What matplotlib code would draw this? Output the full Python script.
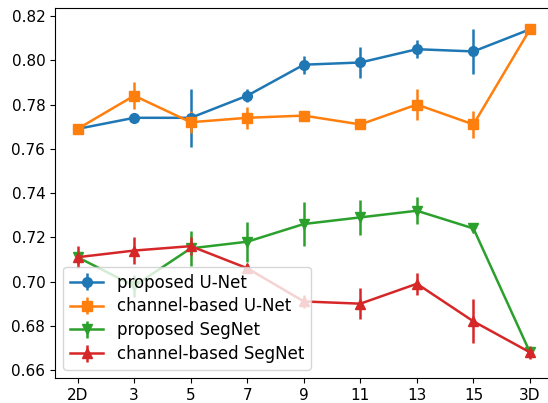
import matplotlib
matplotlib.use("Agg")
import matplotlib.pyplot as plt

# x categories
labels = ["2D", "3", "5", "7", "9", "11", "13", "15", "3D"]

# mean values and error bars for each series
unet_prop = [0.769, 0.774, 0.774, 0.784, 0.798, 0.799, 0.805, 0.804, 0.814]
unet_prop_err = [0.002, 0.002, 0.013, 0.003, 0.004, 0.007, 0.004, 0.010, 0.001]

unet_chan = [0.769, 0.784, 0.772, 0.774, 0.775, 0.771, 0.780, 0.771, 0.814]
unet_chan_err = [0.002, 0.006, 0.005, 0.005, 0.002, 0.002, 0.007, 0.006, 0.001]

segnet_prop = [0.711, 0.698, 0.715, 0.718, 0.726, 0.729, 0.732, 0.724, 0.668]
segnet_prop_err = [0.003, 0.005, 0.008, 0.009, 0.010, 0.008, 0.006, 0.001, 0.002]

segnet_chan = [0.711, 0.714, 0.716, 0.706, 0.691, 0.690, 0.699, 0.682, 0.668]
segnet_chan_err = [0.005, 0.006, 0.004, 0.002, 0.003, 0.007, 0.005, 0.010, 0.003]

series = [
    ("proposed U-Net", unet_prop, unet_prop_err, "o", "tab:blue"),
    ("channel-based U-Net", unet_chan, unet_chan_err, "s", "tab:orange"),
    ("proposed SegNet", segnet_prop, segnet_prop_err, "v", "tab:green"),
    ("channel-based SegNet", segnet_chan, segnet_chan_err, "^", "tab:red"),
]

plt.rcParams["font.size"] = 11

fig = plt.figure(figsize=(5.48, 4.03), dpi=100)
ax = fig.add_axes([0.1004, 0.062, 0.908, 0.918])

x = list(range(len(labels)))
for name, vals, errs, marker, color in series:
    ax.errorbar(x, vals, yerr=errs, marker=marker, color=color,
                markersize=7, linewidth=1.8, label=name)

ax.set_xticks(x)
ax.set_xticklabels(labels)
ax.set_xlim(-0.4, 8.4)
ax.set_ylim(0.6564, 0.8236)
ax.set_yticks([0.66, 0.68, 0.70, 0.72, 0.74, 0.76, 0.78, 0.80, 0.82])

ax.legend(loc="lower left", fontsize=12, labelspacing=0.35)

fig.savefig("out.png", dpi=100)
